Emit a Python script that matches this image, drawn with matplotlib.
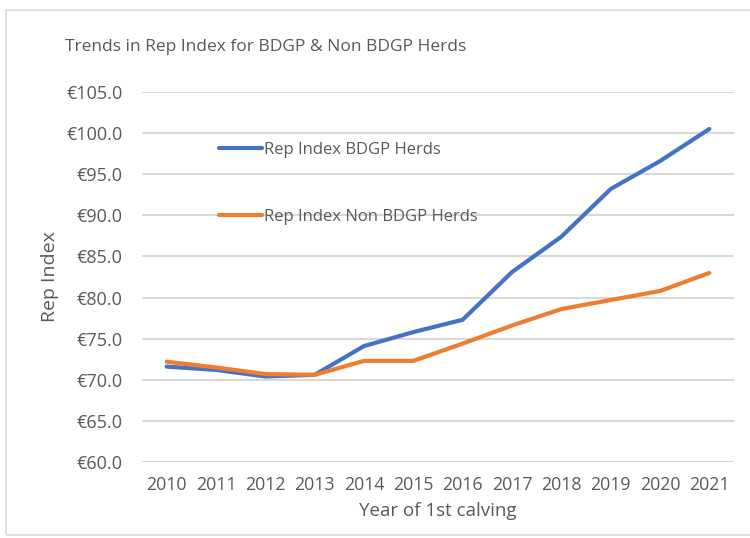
import matplotlib
matplotlib.use("Agg")
import matplotlib.pyplot as plt
from matplotlib.patches import Rectangle
from matplotlib.ticker import FuncFormatter

# data
years = ["2010", "2011", "2012", "2013", "2014", "2015", "2016", "2017", "2018", "2019", "2020", "2021"]
bdgp = [71.6, 71.2, 70.4, 70.6, 74.1, 75.8, 77.3, 83.1, 87.4, 93.2, 96.6, 100.5]
non_bdgp = [72.2, 71.5, 70.7, 70.6, 72.3, 72.3, 74.4, 76.6, 78.6, 79.7, 80.8, 83.0]
yticks = [60, 65, 70, 75, 80, 85, 90, 95, 100, 105]

txt = "#595959"
plt.rcParams['font.family'] = ['Open Sans', 'DejaVu Sans']

fig = plt.figure(figsize=(7.5, 5.38), dpi=100)
ax = fig.add_axes([142/750, 1 - 462/538, (734 - 142)/750, (462 - 92)/538])

# chart area border
fig.patches.append(Rectangle((6/750, 3/538), 1.0, 1 - 13/538, transform=fig.transFigure,
                             fill=False, edgecolor="#d9d9d9", linewidth=1.2, zorder=0))

x = list(range(len(years)))
ax.plot(x, bdgp, color="#4472C4", linewidth=3, label="Rep Index BDGP Herds", solid_capstyle="round")
ax.plot(x, non_bdgp, color="#ED7D31", linewidth=3, label="Rep Index Non BDGP Herds", solid_capstyle="round")

ax.set_xlim(-0.5, len(years) - 0.5)
ax.set_ylim(60, 105)
ax.set_xticks(x)
ax.set_xticklabels(years)
ax.set_yticks(yticks)
ax.yaxis.set_major_formatter(FuncFormatter(lambda v, p: "€%.1f" % v))
ax.grid(axis="y", color="#d9d9d9", linewidth=1.5)
ax.set_axisbelow(True)
for s in ax.spines.values():
    s.set_visible(False)
ax.tick_params(axis="x", length=0, labelsize=12.8, colors=txt, pad=10)
ax.tick_params(axis="y", length=0, labelsize=13, colors=txt, pad=14)

ax.set_xlabel("Year of 1st calving", fontsize=13.5, color=txt, labelpad=6)
ax.set_ylabel("Rep Index", fontsize=14, color=txt, labelpad=5)
fig.text(266/750, 1 - 47/538, "Trends in Rep Index for BDGP & Non BDGP Herds",
         ha="center", va="center", fontsize=12.5, color=txt)

leg = ax.legend(loc="upper left", bbox_to_anchor=(70/592, 1 - 43/370), frameon=False,
                fontsize=12, labelcolor=txt, handlelength=2.6, handletextpad=0.15,
                labelspacing=3.1, borderaxespad=0)

fig.savefig("out.png", dpi=100, facecolor="white")
